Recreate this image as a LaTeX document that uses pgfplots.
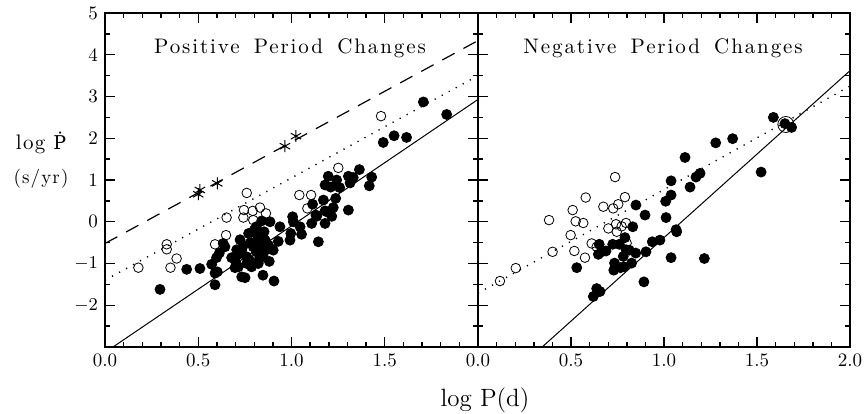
\documentclass[border=0pt]{standalone}
\usepackage{fontspec}
\usepackage{pgfplots}
\pgfplotsset{compat=1.18}
\newfontfamily\spacedfont[LetterSpace=9,WordSpace=1.6]{lmroman10-regular.otf}
\newfontfamily\labelfont[LetterSpace=6,WordSpace=1.5]{lmroman10-regular.otf}
\newfontfamily\dotfont{DejaVu Serif}

% left panel: positive period changes
\pgfplotstableread{
x y
1.707 2.87
1.832 2.57
1.492 1.90
1.550 2.06
1.617 2.02
1.364 1.25
1.430 1.07
1.417 0.86
1.197 1.09
1.180 0.88
1.210 0.83
1.242 1.00
1.258 0.82
1.305 1.09
1.331 1.06
1.314 0.93
1.171 0.52
1.237 0.56
1.224 0.34
1.180 0.26
1.135 0.13
1.216 0.13
1.305 0.28
1.113 0.42
1.006 0.12
1.010 0.00
1.046 -0.12
1.054 -0.30
1.108 -0.04
1.131 0.16
1.144 -0.48
1.180 -0.04
1.189 0.24
0.938 -0.12
0.992 -0.44
0.996 -0.28
0.929 -0.47
0.885 0.00
0.840 0.02
0.811 -0.12
0.817 -0.32
0.853 -0.24
0.863 -0.48
0.770 -0.28
0.724 -0.43
0.742 -0.56
0.733 -0.68
0.760 -0.84
0.786 -1.08
0.795 -0.60
0.810 -0.48
0.811 -0.72
0.825 -0.92
0.847 -0.80
0.847 -1.28
0.858 -0.44
0.876 -0.56
0.881 -0.95
0.902 -0.68
0.906 -1.42
0.822 -1.00
0.774 -0.92
0.715 -1.08
0.733 -1.32
0.751 -1.34
0.706 -0.67
0.715 -0.78
0.679 -0.86
0.697 -1.10
0.634 -0.52
0.643 -0.60
0.613 -0.75
0.598 -0.86
0.602 -1.20
0.590 -1.23
0.572 -1.02
0.590 -1.51
0.509 -1.12
0.438 -1.14
0.295 -1.62
0.780 -0.50
0.800 -0.20
0.760 -1.00
0.860 -0.68
0.700 -0.95
0.830 -0.60
}\posfilled

\pgfplotstableread{
x y
0.179 -1.10
0.331 -0.54
0.331 -0.66
0.384 -0.88
0.351 -1.10
0.590 -0.54
0.649 -0.32
0.652 0.10
0.760 0.69
0.745 0.28
0.742 0.10
0.792 0.26
0.795 0.04
0.831 0.34
0.863 0.20
1.042 0.64
1.105 0.64
1.085 0.32
1.251 1.29
1.480 2.53
}\posopen

\pgfplotstableread{
x y
0.500 0.66
0.509 0.76
0.602 0.92
0.965 1.81
1.024 2.05
}\posstar

% right panel: negative period changes
\pgfplotstableread{
x y
0.531 -1.10
0.620 -1.79
0.638 -1.60
0.656 -1.67
0.652 -0.54
0.647 -0.78
0.665 -0.72
0.688 -0.70
0.724 -0.54
0.760 -0.54
0.790 -0.38
0.734 -0.99
0.730 -1.16
0.766 -1.10
0.785 -1.08
0.781 -0.83
0.796 -0.67
0.813 -0.68
0.848 -0.75
0.826 -0.99
0.832 -0.12
0.849 0.40
0.898 0.16
0.903 -0.72
0.892 -1.44
0.937 -0.48
0.978 -0.44
1.011 0.10
1.009 0.49
1.038 0.64
1.038 0.98
1.065 -0.19
1.068 -0.24
1.038 -0.86
1.140 0.83
1.217 -0.88
1.588 2.50
1.650 2.35
1.686 2.26
1.278 1.89
1.369 1.99
1.113 1.54
1.522 1.19
1.194 1.16
1.172 1.07
}\negfilled

\pgfplotstableread{
x y
0.118 -1.42
0.203 -1.11
0.401 -0.72
0.382 0.04
0.509 0.28
0.525 0.01
0.566 -0.03
0.498 -0.32
0.518 -0.70
0.575 -0.86
0.579 0.58
0.611 -0.52
0.638 -0.60
0.674 0.36
0.701 -0.16
0.727 0.32
0.754 0.42
0.737 1.07
0.790 0.59
0.742 -0.06
0.746 -0.24
0.772 -0.11
0.796 -0.03
0.799 -0.51
}\negopen

\pgfplotsset{
  panel/.style={
    scale only axis, height=167pt,
    xmin=0, xmax=2, ymin=-3, ymax=5,
    xtick={0,0.5,...,2}, minor x tick num=4,
    ytick={-3,...,5}, minor y tick num=1,
    tick align=inside,
    major tick length=5pt, minor tick length=2.5pt,
    axis line style={line width=0.9pt},
    every tick/.style={black, line width=0.7pt},
    tick label style={font=\fontsize{9.5}{11}\selectfont},
  },
  filled/.style={only marks, mark=*, mark size=2.5pt, black},
  open/.style={only marks, mark=o, mark size=2.4pt, black, mark options={line width=0.4pt}},
}

\begin{document}
\begin{tikzpicture}
\path[use as bounding box] (-52.5pt,-33pt) rectangle (380.5pt,173.5pt);

\begin{axis}[panel, width=186.5pt, at={(0pt,0pt)}, anchor=south west,
  xticklabels={0.0,0.5,1.0,1.5,},
  yticklabels={,$-2$,$-1$,0,1,2,3,4,5}]
  \addplot[black, line width=0.5pt] coordinates {(0,-3.13) (2,2.93)};
  \addplot[black, line width=0.7pt, dash pattern=on 0.6pt off 3.4pt] coordinates {(0,-1.40) (2,3.50)};
  \addplot[black, line width=0.6pt, dash pattern=on 7pt off 5pt] coordinates {(0,-0.52) (2,4.34)};
  \addplot[open] table {\posopen};
  \addplot[filled] table {\posfilled};
  \addplot[only marks, mark=asterisk, mark size=3pt, black, mark options={line width=0.5pt}] table {\posstar};
\end{axis}

\begin{axis}[panel, width=186pt, at={(186.5pt,0pt)}, anchor=south west,
  xticklabels={0.0,0.5,1.0,1.5,2.0},
  yticklabels={}]
  \addplot[black, line width=0.5pt] coordinates {(0,-4.38) (2,3.62)};
  \addplot[black, line width=0.7pt, dash pattern=on 0.6pt off 3.4pt] coordinates {(0,-1.71) (2,3.25)};
  \addplot[open] table {\negopen};
  \addplot[filled] table {\negfilled};
  \addplot[only marks, mark=o, mark size=4pt, black, mark options={line width=0.4pt}] coordinates {(1.655,2.33)};
\end{axis}

\node[font=\fontsize{10.5}{12}\selectfont\spacedfont] at (92.5pt,149.5pt) {Positive Period Changes};
\node[font=\fontsize{10.5}{12}\selectfont\spacedfont] at (279pt,149.5pt) {Negative Period Changes};
\node[font=\fontsize{10.5}{12}\selectfont\labelfont, inner sep=0pt] at (-32pt,102pt) {log\hspace{4pt}{\dotfont\fontsize{9.5}{11}\selectfont Ṗ}};
\node[font=\fontsize{9.5}{11}\selectfont\labelfont, inner sep=0pt] at (-32pt,84pt) {(s/yr)};
\node[font=\fontsize{12.5}{14}\selectfont] at (190pt,-26.5pt) {log P(d)};
\end{tikzpicture}
\end{document}
